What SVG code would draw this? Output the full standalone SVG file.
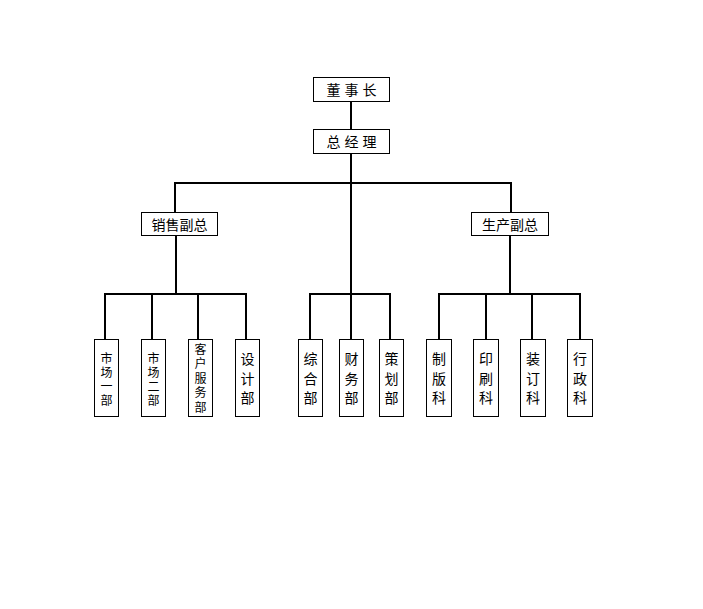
<svg xmlns="http://www.w3.org/2000/svg" width="703" height="609" viewBox="0 0 703 609">
<style>
.box{fill:#fff;stroke:#000;stroke-width:1}
.ln{stroke:#000;stroke-width:2;fill:none}
text{font-family:"Liberation Sans","Noto Sans CJK SC",sans-serif;font-size:14px;fill:#000;text-anchor:middle}
text.s{font-size:12px}
</style>
<rect width="703" height="609" fill="#fff"/>
<g id="connectors">
<path class="ln" d="M351,101 V129"/>
<path class="ln" d="M351,153 V294"/>
<path class="ln" d="M175,212 V183 H511 V212"/>
<path class="ln" d="M176,236 V294"/>
<path class="ln" d="M510,236 V294"/>
<path class="ln" d="M105,339 V294 H246 V339 M152,294 V339 M198,294 V339"/>
<path class="ln" d="M310,339 V294 H390 V339 M351,294 V339"/>
<path class="ln" d="M439,339 V294 H580 V339 M486,294 V339 M532,294 V339"/>
</g>
<g id="n_chairman"><rect class="box" x="313.5" y="77.5" width="76" height="24"/><text x="351.5" y="94.5">董 事 长</text></g>
<g id="n_gm"><rect class="box" x="313.5" y="129.5" width="76" height="24"/><text x="351.5" y="146.5">总 经 理</text></g>
<g id="n_sales"><rect class="box" x="141.5" y="212.5" width="76" height="23"/><text x="179.5" y="229.5">销售副总</text></g>
<g id="n_prod"><rect class="box" x="471.5" y="212.5" width="77" height="23"/><text x="510" y="229.5">生产副总</text></g>
<g id="n_m1"><rect class="box" x="94.5" y="339.5" width="24" height="77"/><text class="s" x="106.5" y="362.5">市</text><text class="s" x="106.5" y="376.5">场</text><text class="s" x="106.5" y="390.5">一</text><text class="s" x="106.5" y="404.5">部</text></g>
<g id="n_m2"><rect class="box" x="141.5" y="339.5" width="24" height="77"/><text class="s" x="153.5" y="362.5">市</text><text class="s" x="153.5" y="376.5">场</text><text class="s" x="153.5" y="390.5">二</text><text class="s" x="153.5" y="404.5">部</text></g>
<g id="n_cs"><rect class="box" x="188.5" y="339.5" width="24" height="77"/><text class="s" x="200.5" y="353.5">客</text><text class="s" x="200.5" y="368">户</text><text class="s" x="200.5" y="382.5">服</text><text class="s" x="200.5" y="397">务</text><text class="s" x="200.5" y="411.5">部</text></g>
<g id="n_design"><rect class="box" x="235.5" y="339.5" width="24" height="77"/><text x="247.5" y="364">设</text><text x="247.5" y="383.5">计</text><text x="247.5" y="402.5">部</text></g>
<g id="n_general"><rect class="box" x="298.5" y="339.5" width="24" height="77"/><text x="310.5" y="364">综</text><text x="310.5" y="383.5">合</text><text x="310.5" y="402.5">部</text></g>
<g id="n_finance"><rect class="box" x="339.5" y="339.5" width="24" height="77"/><text x="351.5" y="364">财</text><text x="351.5" y="383.5">务</text><text x="351.5" y="402.5">部</text></g>
<g id="n_plan"><rect class="box" x="379.5" y="339.5" width="24" height="77"/><text x="391.5" y="364">策</text><text x="391.5" y="383.5">划</text><text x="391.5" y="402.5">部</text></g>
<g id="n_plate"><rect class="box" x="426.5" y="339.5" width="25" height="77"/><text x="439" y="364">制</text><text x="439" y="383.5">版</text><text x="439" y="402.5">科</text></g>
<g id="n_print"><rect class="box" x="473.5" y="339.5" width="25" height="77"/><text x="486" y="364">印</text><text x="486" y="383.5">刷</text><text x="486" y="402.5">科</text></g>
<g id="n_bind"><rect class="box" x="520.5" y="339.5" width="25" height="77"/><text x="533" y="364">装</text><text x="533" y="383.5">订</text><text x="533" y="402.5">科</text></g>
<g id="n_admin"><rect class="box" x="567.5" y="339.5" width="25" height="77"/><text x="580" y="364">行</text><text x="580" y="383.5">政</text><text x="580" y="402.5">科</text></g>
</svg>
